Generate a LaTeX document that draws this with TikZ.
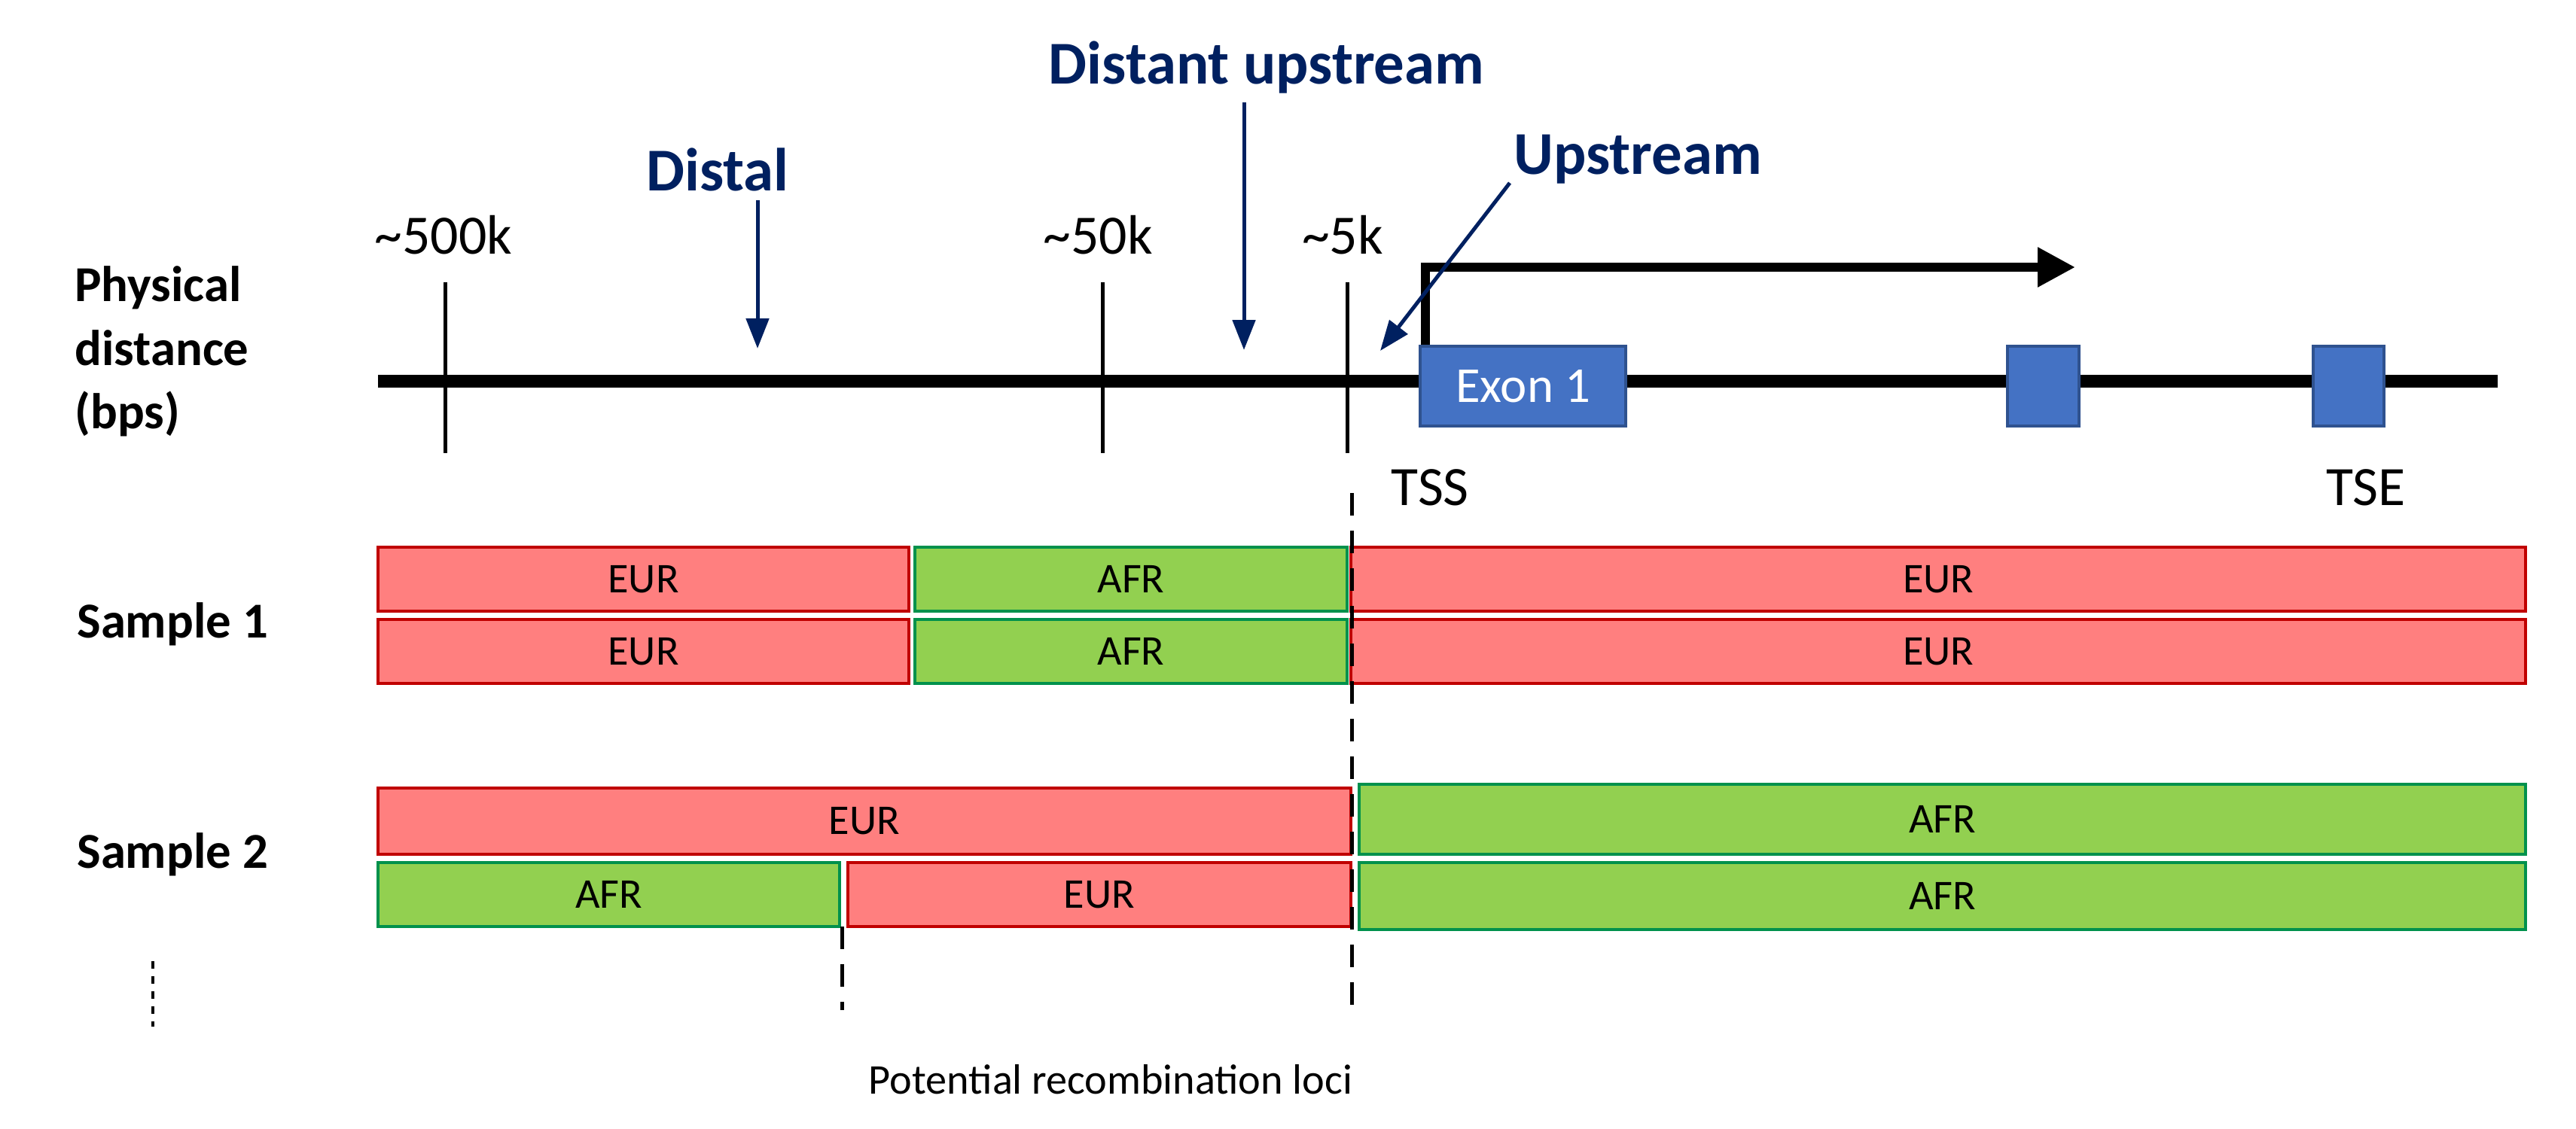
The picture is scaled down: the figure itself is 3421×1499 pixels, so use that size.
\documentclass[tikz,border=0pt]{standalone}
\usepackage{fontspec}
\setmainfont{Carlito}
\usetikzlibrary{arrows.meta}
\definecolor{navy}{HTML}{002060}
\definecolor{eurfill}{HTML}{FF7F7F}
\definecolor{eurline}{HTML}{C00000}
\definecolor{afrfill}{HTML}{92D050}
\definecolor{afrline}{HTML}{00914C}
\definecolor{exfill}{HTML}{4472C4}
\definecolor{exline}{HTML}{2F528F}
\tikzset{
  eur/.style={draw=eurline, fill=eurfill, line width=0.4mm},
  afr/.style={draw=afrline, fill=afrfill, line width=0.4mm},
  exon/.style={draw=exline, fill=exfill, line width=0.4mm},
  tick/.style={line width=0.5mm},
  region/.style={font=\fontsize{23}{26}\selectfont\bfseries, text=navy},
  pointer/.style={navy, line width=0.5mm, -{Triangle[length=4mm,width=3mm]}},
  seglab/.style={font=\fontsize{16}{19}\selectfont},
  dist/.style={font=\fontsize{21}{24}\selectfont},
  loci/.style={line width=0.5mm, dash pattern=on 3mm off 2mm}
}
\newcommand{\seg}[7]{\draw[#6] (#2,#3) rectangle (#4,#5) node[midway, seglab] (#1) {#7};}
\begin{document}
\begin{tikzpicture}[x=0.1mm, y=-0.1mm]
  \useasboundingbox (0,0) rectangle (3421,1499);
  %axis
  \coordinate (l0) at (502,506);
  \coordinate (l1) at (3317,506);
  \draw[line width=1.7mm] (l0) -- (l1);
  \node[font=\fontsize{19}{24}\selectfont\bfseries, align=left, anchor=west] (phys) at (87,467) {Physical\\distance\\(bps)};

  %ticks
  \draw[tick] (591,375) -- (591,602);
  \draw[tick] (1464,375) -- (1464,602);
  \draw[tick] (1789,375) -- (1789,602);
  \node[dist] (k500) at (589,312) {\textasciitilde500k};
  \node[dist] (k50) at (1458,312) {\textasciitilde50k};
  \node[dist] (k5) at (1783,312) {\textasciitilde5k};

  %transcription
  \coordinate (tss) at (1893,460);
  \coordinate (tsa) at (2756,355);
  \draw[line width=1.2mm, -{Triangle[length=5mm,width=5mm]}] (tss) |- (tsa);

  %exons
  \draw[exon] (1886,460) rectangle (2159,566) node[midway, text=white, font=\fontsize{19}{22}\selectfont] (ex1) {Exon 1};
  \draw[exon] (2666,460) rectangle (2761,566);
  \draw[exon] (3072,460) rectangle (3166,566);
  \node[dist, anchor=west] (tsslab) at (1835,648) {TSS};
  \node[dist] (tselab) at (3142,648) {TSE};

  %regions
  \node[region] (distal) at (953,225) {Distal};
  \node[region] (dup) at (1682,89) {Distant upstream};
  \node[region, anchor=west] (up) at (1998,212) {Upstream};
  \coordinate (distalend) at (1006,463);
  \coordinate (dupend) at (1652,465);
  \coordinate (upstart) at (2005,243);
  \coordinate (upend) at (1833,466);
  \draw[pointer] (distal.south) ++(53,0) -- (distalend);
  \draw[pointer] (dup.south) ++(-30,0) -- (dupend);
  \draw[pointer] (upstart) -- (upend);

  %sample 1
  \node[font=\fontsize{19}{22}\selectfont\bfseries, anchor=west] (s1) at (90,829) {Sample 1};
  \seg{a1}{502}{727}{1207}{812}{eur}{EUR}
  \seg{a2}{1215}{727}{1789}{812}{afr}{AFR}
  \seg{a3}{1794}{727}{3354}{812}{eur}{EUR}
  \seg{b1}{502}{823}{1207}{908}{eur}{EUR}
  \seg{b2}{1215}{823}{1789}{908}{afr}{AFR}
  \seg{b3}{1794}{823}{3354}{908}{eur}{EUR}

  %sample 2
  \node[font=\fontsize{19}{22}\selectfont\bfseries, anchor=west] (s2) at (90,1135) {Sample 2};
  \seg{c1}{502}{1047}{1794}{1135}{eur}{EUR}
  \seg{c2}{1805}{1042}{3354}{1135}{afr}{AFR}
  \seg{d1}{502}{1146}{1115}{1231}{afr}{AFR}
  \seg{d2}{1126}{1146}{1794}{1231}{eur}{EUR}
  \seg{d3}{1805}{1146}{3354}{1235}{afr}{AFR}

  %recombination loci
  \draw[loci] (1795,655) -- (1795,1342);
  \draw[loci] (1118,1231) -- (1118,1342);
  \draw[line width=0.4mm, dash pattern=on 1mm off 1mm] (203,1277) -- (203,1364);
  \node[font=\fontsize{16}{19}\selectfont] (loci) at (1475,1434) {Potential recombination loci};
\end{tikzpicture}
\end{document}
